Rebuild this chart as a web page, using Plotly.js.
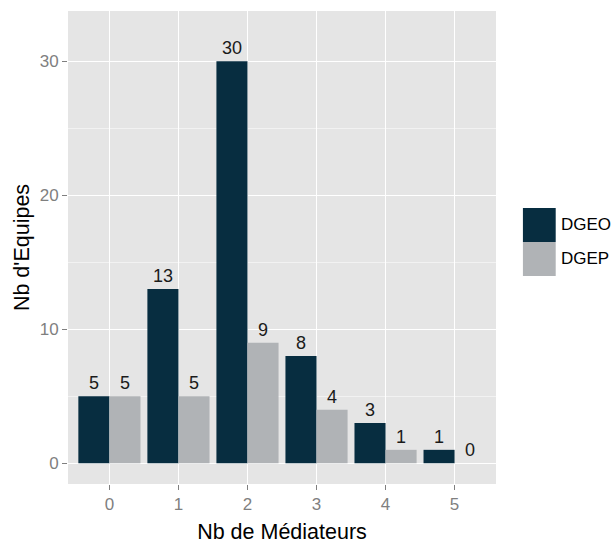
<!DOCTYPE html>
<html><head><meta charset="utf-8">
<script src="https://cdn.plot.ly/plotly-3.0.1.min.js"></script>
<style>html,body{margin:0;padding:0;background:#fff}#chart{width:614px;height:544px}</style>
</head><body><div id="chart"></div>
<script>
const categories = ['0','1','2','3','4','5'];
const dgeo = [5, 13, 30, 8, 3, 1];
const dgep = [5, 5, 9, 4, 1, 0];
const seriesNames = ['DGEO', 'DGEP'];
const colors = ['#072d40', '#b0b3b6'];

const mk = (vals, i) => ({
  type: 'bar', x: categories, y: vals, name: seriesNames[i],
  marker: {color: colors[i], line: {width: 0}},
  text: vals.map(String), textposition: 'outside', cliponaxis: false,
  textfont: {family: 'Liberation Sans, Arial, sans-serif', size: 18, color: '#1a1a1a'},
  hoverinfo: 'none'
});

const layout = {
  width: 614, height: 544,
  margin: {l: 68, r: 118, t: 11, b: 60},
  paper_bgcolor: '#ffffff', plot_bgcolor: '#e5e5e5',
  barmode: 'group', bargap: 0.1, bargroupgap: 0,
  showlegend: false,
  font: {family: 'Liberation Sans, Arial, sans-serif'},
  xaxis: {
    type: 'category', range: [-0.6, 5.6],
    showgrid: true, gridcolor: '#ffffff', gridwidth: 1.2,
    zeroline: false, showline: false,
    ticks: 'outside', ticklen: 5, tickwidth: 1.2, tickcolor: '#7f7f7f',
    tickfont: {size: 17, color: '#7f7f7f'},
    title: {text: 'Nb de Médiateurs', font: {size: 21.5, color: '#000'}, standoff: 10}
  },
  yaxis: {
    range: [-1.55, 33.75], tickvals: [0, 10, 20, 30],
    showgrid: true, gridcolor: '#ffffff', gridwidth: 1.2,
    minor: {tickvals: [5, 15, 25], showgrid: true, gridcolor: '#f2f2f2', gridwidth: 1, ticks: ''},
    zeroline: false, showline: false,
    ticks: 'outside', ticklen: 5, tickwidth: 1.2, tickcolor: '#7f7f7f',
    tickfont: {size: 17, color: '#7f7f7f'},
    title: {text: "Nb d'Equipes", font: {size: 21.5, color: '#000'}, standoff: 4}
  },
  shapes: [
    {type: 'rect', xref: 'paper', yref: 'paper', x0: 1.0629, x1: 1.1395, y0: 0.5116, y1: 0.5835, fillcolor: colors[0], line: {width: 0}},
    {type: 'rect', xref: 'paper', yref: 'paper', x0: 1.0629, x1: 1.1395, y0: 0.4397, y1: 0.5116, fillcolor: colors[1], line: {width: 0}}
  ],
  annotations: [
    {xref: 'paper', yref: 'paper', x: 1.1465, y: 0.5476, xanchor: 'left', yanchor: 'middle', text: 'DGEO', showarrow: false, font: {size: 17, color: '#000'}},
    {xref: 'paper', yref: 'paper', x: 1.1465, y: 0.4757, xanchor: 'left', yanchor: 'middle', text: 'DGEP', showarrow: false, font: {size: 17, color: '#000'}}
  ]
};

Plotly.newPlot('chart', [mk(dgeo, 0), mk(dgep, 1)], layout, {displayModeBar: false, staticPlot: true});
</script></body></html>
